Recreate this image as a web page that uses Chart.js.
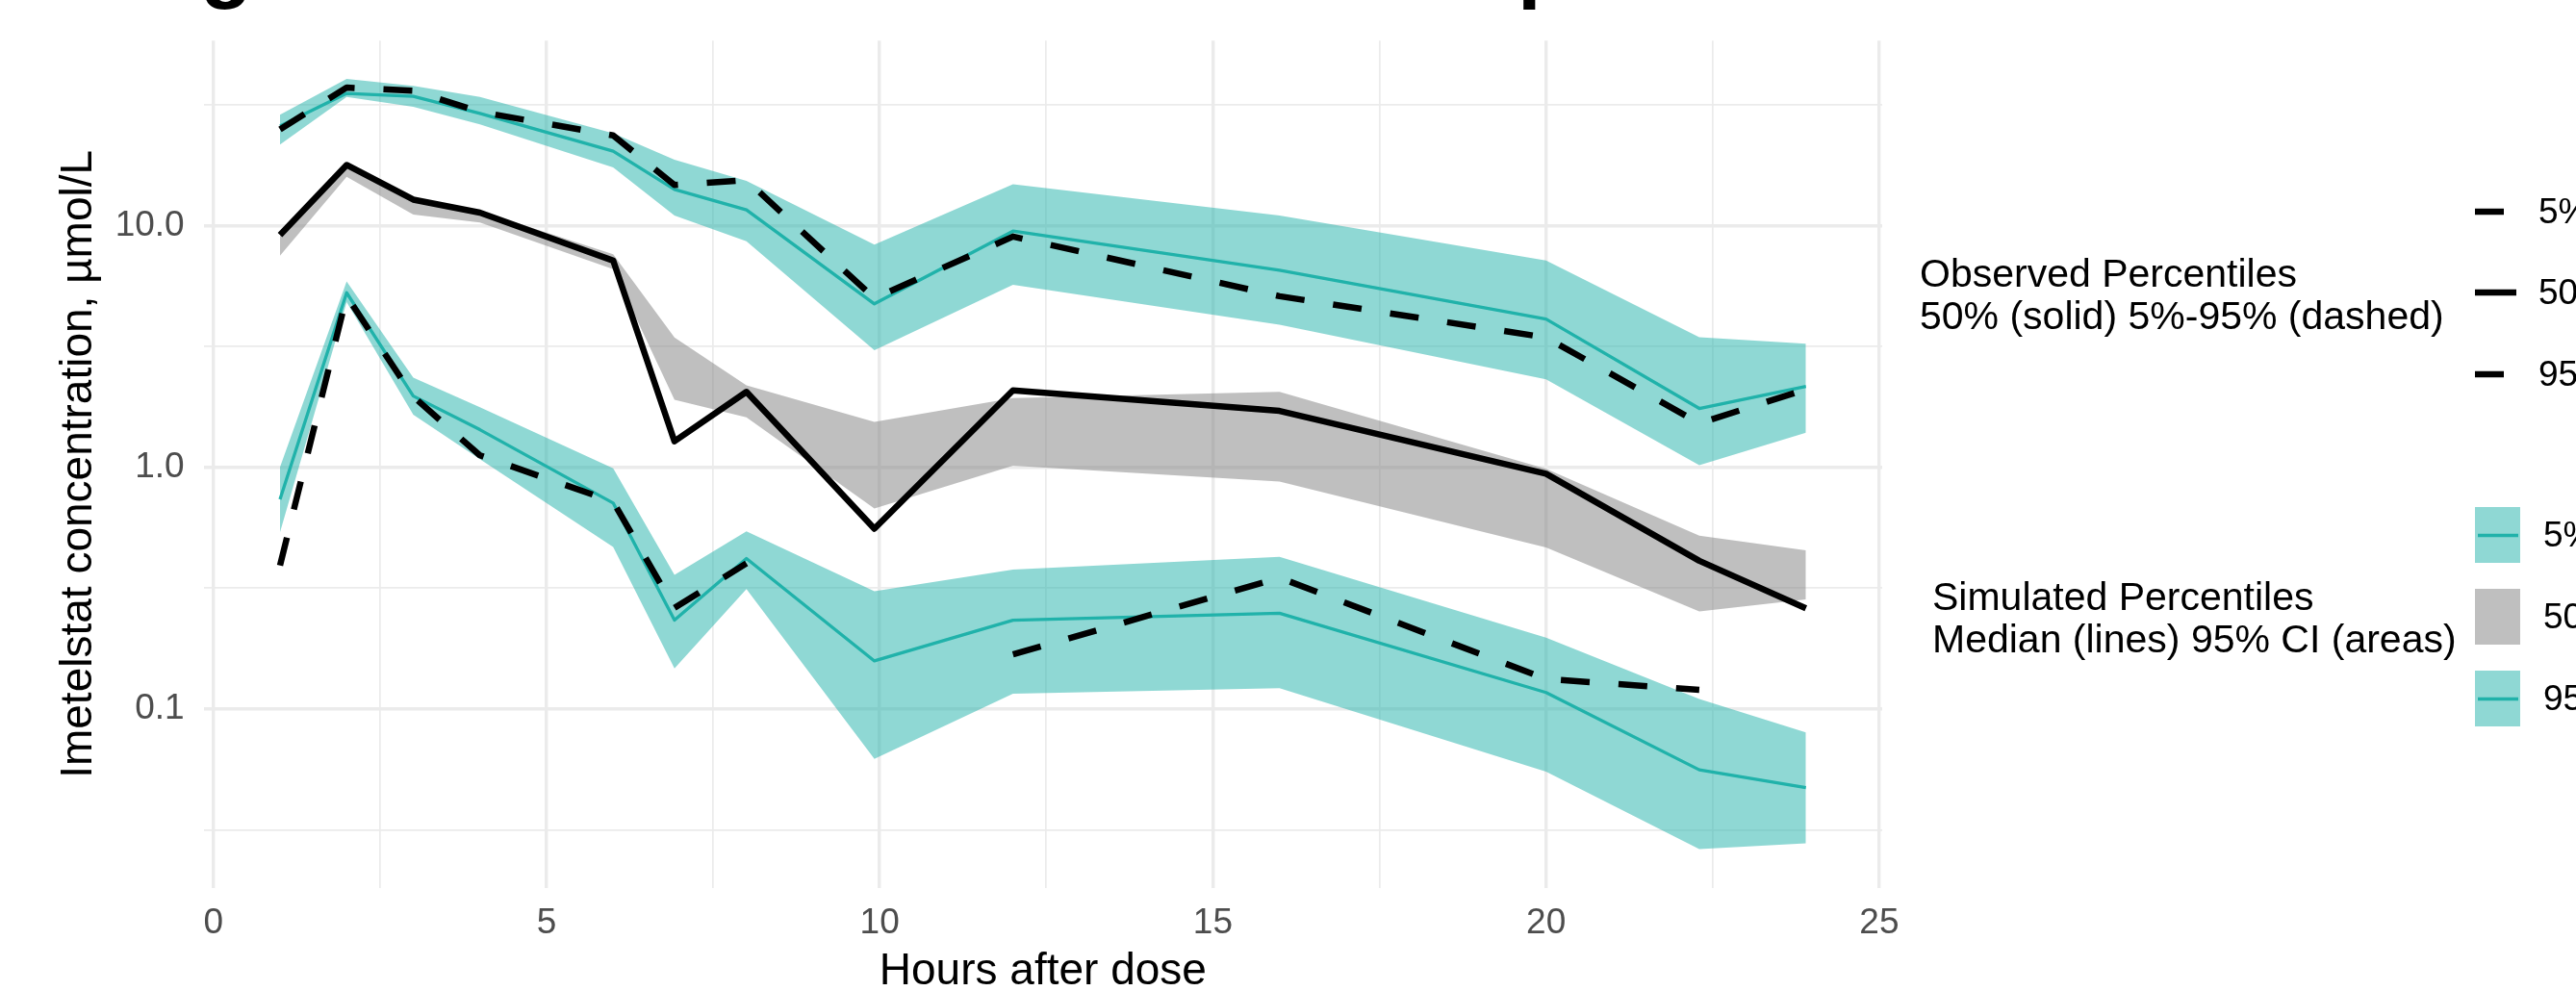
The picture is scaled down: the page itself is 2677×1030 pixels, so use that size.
<!DOCTYPE html>
<html>
<head>
<meta charset="utf-8">
<title>Imetelstat VPC</title>
<script src="https://cdn.jsdelivr.net/npm/chart.js@4.4.1/dist/chart.umd.min.js"></script>
<style>
  html, body { margin: 0; padding: 0; background: #ffffff; }
  canvas { display: block; }
</style>
</head>
<body>
<canvas id="vpcChart" width="2677" height="1030"></canvas>
<script>
// Data (hours after dose, concentrations in umol/L)
const hours = [1, 2, 3, 4, 6, 6.92, 8, 9.92, 12, 16, 20, 22.3, 23.9];

// simulated 95th percentile: 95% CI and median
const sim95Hi  = [28.7, 40.4, 37.8, 34.0, 24.1, 18.7, 15.3, 8.34, 14.8, 11.0, 7.16, 3.45, 3.24];
const sim95Med = [25.8, 35.2, 34.2, 29.1, 20.3, 14.1, 11.6, 4.74, 9.48, 6.53, 4.10, 1.75, 2.16];
const sim95Lo  = [21.6, 34.0, 31.0, 26.2, 17.4, 11.0, 8.6, 3.05, 5.69, 3.89, 2.31, 1.02, 1.39];

// simulated 50th percentile: 95% CI
const sim50Hi = [9.2, 17.6, 12.9, 11.5, 7.6, 3.44, 2.18, 1.54, 1.93, 2.05, 0.985, 0.521, 0.453];
const sim50Lo = [7.5, 15.9, 11.1, 10.3, 6.6, 1.90, 1.61, 0.675, 1.015, 0.872, 0.466, 0.253, 0.284];

// simulated 5th percentile: 95% CI and median
const sim5Hi  = [1.0, 5.87, 2.35, 1.77, 0.99, 0.359, 0.543, 0.307, 0.377, 0.426, 0.197, 0.110, 0.080];
const sim5Med = [0.736, 5.27, 1.97, 1.43, 0.711, 0.233, 0.419, 0.158, 0.233, 0.249, 0.117, 0.056, 0.0473];
const sim5Lo  = [0.538, 4.82, 1.65, 1.08, 0.468, 0.147, 0.313, 0.0622, 0.1156, 0.122, 0.055, 0.0263, 0.0278];

// observed percentiles
const obs95 = [25.0, 37.2, 36.1, 29.5, 23.6, 14.7, 15.4, 5.0, 9.0, 5.1, 3.44, 1.52, 2.1];
const obs50 = [9.14, 17.8, 12.8, 11.3, 7.16, 1.28, 2.05, 0.557, 2.08, 1.71, 0.94, 0.41, 0.261];
const obs5  = [0.392, 5.1, 1.96, 1.12, 0.72, 0.262, 0.40, null, 0.168, 0.349, 0.133, 0.12, null];

// axis ticks
const xTicks = [0, 2.5, 5, 7.5, 10, 12.5, 15, 17.5, 20, 22.5, 25];
const xTickLabels = ['0', '', '5', '', '10', '', '15', '', '20', '', '25'];
const yTicks = [0.0316, 0.1, 0.316, 1, 3.16, 10, 31.6];
const yTickLabels = ['', '0.1', '', '1.0', '', '10.0', ''];

const titleText = 'Log-scale observed and simulated percentiles';
const obsLegendLabels = ['5%', '50%', '95%'];
const simLegendLabels = ['5%', '50%', '95%'];

// Colours
const teal = '#20B2AA';
const tealFill = 'rgba(32, 178, 170, 0.5)';
const greyFill = 'rgba(127, 127, 127, 0.5)';
const gridColor = '#EBEBEB';
const fontFamily = '"Liberation Sans", Arial, sans-serif';

Chart.defaults.font.family = fontFamily;

function pts(values) {
    return hours.map((h, i) => ({ x: h, y: values[i] }));
}

function lineSet(label, values, color, width, dash) {
    return {
        label: label,
        data: pts(values),
        borderColor: color,
        borderWidth: width,
        borderDash: dash || [],
        borderCapStyle: 'butt',
        borderJoinStyle: 'round',
        pointRadius: 0,
        tension: 0,
        fill: false
    };
}

function bandEdge(label, values, fillColor, fillTo) {
    return {
        label: label,
        data: pts(values),
        borderColor: 'transparent',
        borderWidth: 0,
        backgroundColor: fillColor,
        pointRadius: 0,
        tension: 0,
        fill: fillTo
    };
}

// Title: only its descenders fall inside the picture
const clippedTitle = {
    id: 'clippedTitle',
    afterDraw(chart) {
        const ctx = chart.ctx;
        ctx.save();
        ctx.font = 'bold 100px ' + fontFamily;
        const w1 = ctx.measureText(titleText.slice(0, 2)).width;
        const w2 = ctx.measureText(titleText.slice(0, titleText.indexOf('percentiles'))).width;
        const size = 100 * (1577 - 208) / (w2 - w1);
        const x0 = 208 - w1 * size / 100;
        ctx.font = 'bold ' + size + 'px ' + fontFamily;
        ctx.fillStyle = '#000000';
        ctx.textBaseline = 'alphabetic';
        ctx.textAlign = 'left';
        ctx.fillText(titleText, x0, 10 - 0.21 * size);
        ctx.restore();
    }
};

// Legend on the right, drawn like the ggplot one
const sideLegend = {
    id: 'sideLegend',
    afterDraw(chart) {
        const ctx = chart.ctx;
        ctx.save();
        ctx.fillStyle = '#000000';
        ctx.textAlign = 'left';
        ctx.textBaseline = 'alphabetic';
        ctx.font = '41px ' + fontFamily;
        ctx.fillText('Observed Percentiles', 1995, 298);
        ctx.fillText('50% (solid) 5%-95% (dashed)', 1995, 342);
        ctx.fillText('Simulated Percentiles', 2008, 634);
        ctx.fillText('Median (lines) 95% CI (areas)', 2008, 678);

        // observed keys
        const obsY = [220, 304, 389];
        ctx.strokeStyle = '#000000';
        ctx.lineWidth = 6.5;
        ctx.lineCap = 'butt';
        obsY.forEach((y, i) => {
            ctx.setLineDash(i === 1 ? [] : [30, 30]);
            ctx.beginPath();
            ctx.moveTo(2572, y);
            ctx.lineTo(2615, y);
            ctx.stroke();
        });
        ctx.setLineDash([]);

        // simulated keys
        const simTop = [527, 612, 697];
        simTop.forEach((top, i) => {
            ctx.fillStyle = i === 1 ? greyFill : tealFill;
            ctx.fillRect(2572, top, 47, 58);
            if (i !== 1) {
                ctx.strokeStyle = teal;
                ctx.lineWidth = 3.3;
                ctx.beginPath();
                ctx.moveTo(2575, top + 29.5);
                ctx.lineTo(2617, top + 29.5);
                ctx.stroke();
            }
        });

        ctx.fillStyle = '#000000';
        ctx.font = '37px ' + fontFamily;
        ctx.textBaseline = 'middle';
        obsY.forEach((y, i) => ctx.fillText(obsLegendLabels[i], 2638, y + 2));
        simTop.forEach((top, i) => ctx.fillText(simLegendLabels[i], 2643, top + 31));
        ctx.restore();
    }
};

const ctx = document.getElementById('vpcChart').getContext('2d');

new Chart(ctx, {
    type: 'line',
    data: {
        datasets: [
            lineSet('Observed 95%', obs95, '#000000', 6.5, [30, 30]),
            lineSet('Observed 50%', obs50, '#000000', 6.5),
            lineSet('Observed 5%', obs5, '#000000', 6.5, [30, 30]),
            lineSet('Simulated 95% median', sim95Med, teal, 3.3),
            lineSet('Simulated 5% median', sim5Med, teal, 3.3),
            bandEdge('Simulated 95% upper', sim95Hi, tealFill, '+1'),
            bandEdge('Simulated 95% lower', sim95Lo, tealFill, false),
            bandEdge('Simulated 50% upper', sim50Hi, greyFill, '+1'),
            bandEdge('Simulated 50% lower', sim50Lo, greyFill, false),
            bandEdge('Simulated 5% upper', sim5Hi, tealFill, '+1'),
            bandEdge('Simulated 5% lower', sim5Lo, tealFill, false)
        ]
    },
    options: {
        responsive: false,
        animation: false,
        devicePixelRatio: 1,
        layout: {
            padding: { left: 0, right: 721, top: 41, bottom: 0 }
        },
        scales: {
            x: {
                type: 'linear',
                min: -0.145,
                max: 25.045,
                afterBuildTicks: (scale) => {
                    scale.ticks = xTicks.map(v => ({ value: v }));
                },
                afterFit: (scale) => {
                    scale.height = 107.5;
                },
                ticks: {
                    autoSkip: false,
                    maxRotation: 0,
                    padding: 15,
                    color: '#4D4D4D',
                    font: { size: 37 },
                    callback: (value) => {
                        const i = xTicks.indexOf(value);
                        return i >= 0 ? xTickLabels[i] : '';
                    }
                },
                grid: {
                    color: gridColor,
                    drawTicks: false,
                    lineWidth: (c) => (c.tick && c.tick.value % 5 === 0 ? 3.4 : 1.7)
                },
                border: { display: false },
                title: {
                    display: true,
                    text: 'Hours after dose',
                    color: '#000000',
                    font: { size: 46, lineHeight: 0.8 },
                    padding: { top: 0, bottom: 1.6 }
                }
            },
            y: {
                type: 'logarithmic',
                min: 0.01824,
                max: 58.2,
                afterBuildTicks: (scale) => {
                    scale.ticks = yTicks.map(v => ({ value: v }));
                },
                afterFit: (scale) => {
                    scale.width = 211.7;
                },
                ticks: {
                    autoSkip: false,
                    padding: 20,
                    color: '#4D4D4D',
                    font: { size: 37 },
                    callback: (value) => {
                        const i = yTicks.indexOf(value);
                        return i >= 0 ? yTickLabels[i] : '';
                    }
                },
                grid: {
                    color: gridColor,
                    drawTicks: false,
                    lineWidth: (c) => (c.tick && yTickLabels[yTicks.indexOf(c.tick.value)] ? 3.4 : 1.7)
                },
                border: { display: false },
                title: {
                    display: true,
                    text: 'Imetelstat concentration, \u00b5mol/L',
                    color: '#000000',
                    font: { size: 46, lineHeight: 1 },
                    padding: { top: 59, bottom: 0 }
                }
            }
        },
        plugins: {
            legend: { display: false },
            tooltip: { enabled: false },
            title: { display: false }
        }
    },
    plugins: [clippedTitle, sideLegend]
});
</script>
</body>
</html>
